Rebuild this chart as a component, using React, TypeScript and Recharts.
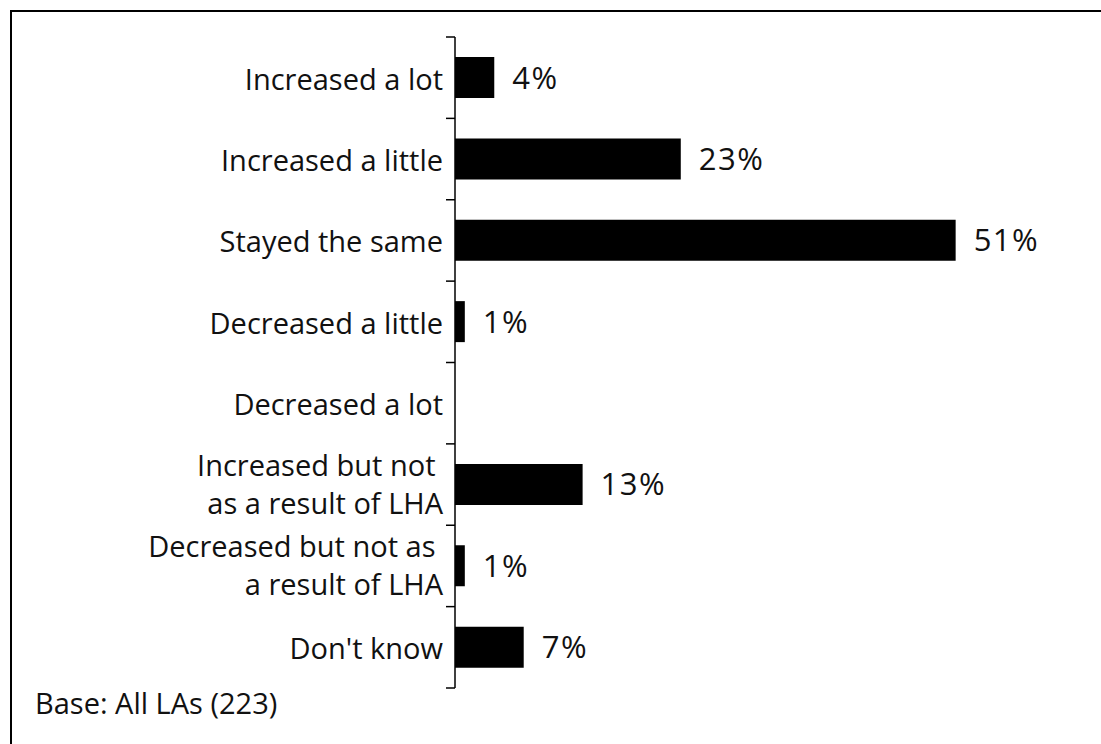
import { Bar, BarChart, LabelList, XAxis, YAxis } from "recharts";

const categories = [
  "Increased a lot",
  "Increased a little",
  "Stayed the same",
  "Decreased a little",
  "Decreased a lot",
  "Increased but not \nas a result of LHA",
  "Decreased but not as \na result of LHA",
  "Don't know"
];

const shares = [4, 23, 51, 1, 0, 13, 1, 7];

const data = categories.map((label, i) => ({ label, value: shares[i] }));

const W = 1101;
const H = 744;
const AXIS_X = 455;
const TOP = 37;
const BOTTOM = 56;
const TICK = 9;
const FONT = "'Open Sans', 'Noto Sans', sans-serif";
const FS = 29;
const band = (H - TOP - BOTTOM) / categories.length;

function CategoryTick(props: any) {
  const { x, y, payload, index } = props;
  const lines = String(payload.value).split("\n");
  const lineH = 38;
  const y0 = y - ((lines.length - 1) * lineH) / 2 - (lines.length > 1 ? 2 : 0);
  const isLast = index === categories.length - 1;
  return (
    <g>
      <line x1={AXIS_X - TICK} x2={AXIS_X} y1={y - band / 2} y2={y - band / 2} stroke="#000" strokeWidth={1.5} />
      {isLast && (
        <line x1={AXIS_X - TICK} x2={AXIS_X} y1={y + band / 2} y2={y + band / 2} stroke="#000" strokeWidth={1.5} />
      )}
      <text
        x={x}
        y={y0}
        textAnchor="end"
        dominantBaseline="central"
        fill="#111"
        fontSize={FS}
        fontFamily={FONT}
        style={{ whiteSpace: "pre" }}
      >
        {lines.map((ln, i) => (
          <tspan key={i} x={x} dy={i === 0 ? 0 : lineH}>
            {ln}
          </tspan>
        ))}
      </text>
    </g>
  );
}

export default function App() {
  return (
    <div style={{ position: "fixed", left: 0, top: 0, width: W, height: H, background: "#fff", overflow: "hidden" }}>
      <div
        style={{
          position: "absolute",
          left: 10,
          top: 10,
          width: W + 20,
          height: H + 20,
          borderTop: "2.5px solid #000",
          borderLeft: "2.5px solid #000"
        }}
      />
      <BarChart
        width={W}
        height={H}
        data={data}
        layout="vertical"
        margin={{ top: TOP, right: W - AXIS_X - 589, bottom: BOTTOM, left: 0 }}
        style={{ position: "absolute", left: 0, top: 0 }}
      >
        <XAxis type="number" domain={[0, 60]} hide />
        <YAxis
          type="category"
          dataKey="label"
          width={AXIS_X}
          axisLine={{ stroke: "#000", strokeWidth: 1.5 }}
          tickLine={false}
          tickSize={TICK}
          tickMargin={3}
          interval={0}
          tick={<CategoryTick />}
        />
        <Bar dataKey="value" fill="#000" barSize={41} isAnimationActive={false}>
          <LabelList
            dataKey="value"
            position="right"
            offset={18}
            fill="#111"
            fontSize={31}
            fontFamily={FONT}
            letterSpacing={1.5}
            formatter={(v: any) => (v ? `${v}%` : "")}
          />
        </Bar>
      </BarChart>
      <div
        style={{
          position: "absolute",
          left: 35,
          top: 684,
          fontFamily: FONT,
          fontSize: FS,
          color: "#111",
          lineHeight: "38px"
        }}
      >
        Base: All LAs (223)
      </div>
    </div>
  );
}
